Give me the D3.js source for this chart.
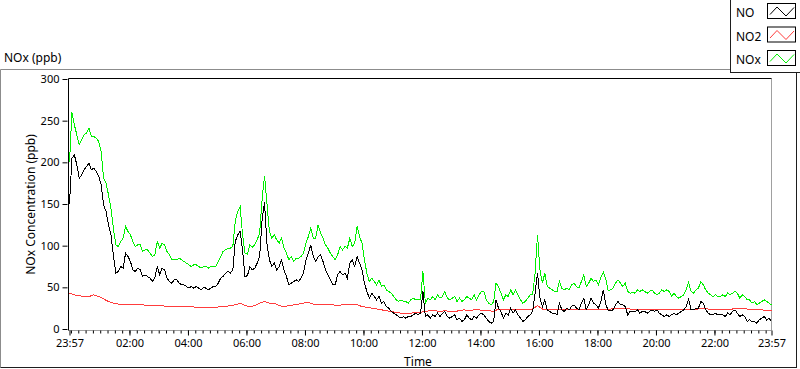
<!DOCTYPE html>
<html><head><meta charset="utf-8">
<script src="https://cdn.jsdelivr.net/npm/d3@7/dist/d3.min.js"></script>
<style>
html,body{margin:0;padding:0;background:#fff;}
svg{display:block;font-family:"Noto Sans",sans-serif;}
</style>
</head><body>
<svg id="chart" width="800" height="369"></svg>
<script>
// ---------------- data ----------------
const seriesNames = ["NO", "NO2", "NOx"];
const startLabel = "23:57";
const noStepMinutes = 5;     // NO and NOx sampled every 5 minutes from 23:57
const no2StepMinutes = 10;   // NO2 sampled every 10 minutes from 23:57

const no = [
  150,205,209,197,181,185,191,195,199,191,193,189,
  183,173,149,141,125,113,89,67,69,75,73,91,
  87,81,71,69,73,71,63,65,63,61,57,61,
  75,65,73,71,61,57,55,59,59,55,53,53,
  51,49,51,49,51,49,47,50,49,47,49,51,
  51,55,61,63,67,69,67,71,105,113,117,95,
  63,64,75,71,73,79,87,131,152,103,83,75,
  79,71,75,83,71,63,53,55,57,59,57,61,
  67,83,91,101,87,81,87,89,81,71,65,59,
  53,53,65,69,65,67,61,79,83,75,87,79,
  71,55,45,37,43,39,35,39,31,33,27,25,
  21,19,17,15,13,15,13,15,15,17,19,17,
  19,45,15,17,13,17,15,19,15,19,21,15,
  13,15,17,11,13,9,11,17,13,11,15,13,
  17,19,17,13,9,7,9,35,25,21,13,19,
  17,25,19,23,17,13,9,11,15,17,21,43,
  67,37,27,35,23,21,19,19,17,31,23,21,
  25,23,27,29,25,23,31,37,23,29,37,31,
  29,25,33,47,30,22,22,23,29,33,29,29,
  27,17,21,21,21,23,19,21,21,19,21,23,
  21,23,19,17,15,17,15,17,19,17,19,21,
  23,27,36,23,23,25,25,33,31,23,19,17,
  17,19,17,17,17,15,19,17,21,23,19,15,
  17,15,9,11,9,9,7,11,13,15,11,13,
  9
];

const nox = [
  200,260,245,233,221,227,233,235,241,231,231,229,
  225,213,181,175,161,145,121,101,99,105,109,123,
  117,113,105,99,101,101,93,95,95,91,87,89,
  105,97,103,101,93,89,83,83,83,85,83,81,
  79,77,75,77,77,75,73,75,75,73,75,75,
  75,81,87,93,95,97,97,99,129,141,147,113,
  91,90,101,98,101,107,115,155,184,151,117,109,
  113,107,103,109,97,91,83,87,81,85,85,87,
  91,103,111,121,109,109,125,115,109,101,97,91,
  87,83,89,99,95,99,97,109,99,103,123,111,
  103,83,67,57,61,57,53,59,51,53,47,45,
  43,39,35,33,35,33,33,31,35,37,35,35,
  35,69,31,37,35,39,35,41,37,39,45,37,
  35,37,39,33,37,33,35,39,37,35,41,35,
  41,45,45,35,31,29,33,55,51,43,35,41,
  39,47,41,47,41,35,31,33,37,41,41,67,
  113,71,55,67,51,49,47,45,45,57,49,47,
  49,47,53,55,51,49,57,65,51,55,61,57,
  59,53,62,68,60,46,47,49,55,59,55,51,
  55,45,43,44,43,47,45,47,45,43,45,47,
  43,41,43,47,45,47,45,39,43,39,37,39,
  41,47,56,45,43,47,49,57,53,47,43,41,
  39,41,39,39,41,39,43,41,43,45,43,37,
  41,39,35,35,31,33,29,31,33,35,33,31,
  29
];

const no2 = [
  43,41,40,39,39,41,39,36,33,31,30,29,
  29,29,29,29,28,28,28,28,27,27,27,27,
  27,27,26,26,26,26,26,27,27,28,29,31,
  28,27,28,31,33,31,31,28,27,28,29,30,
  31,32,30,30,30,29,29,28,29,30,29,29,
  27,26,25,24,23,22,21,20,19,19,19,20,
  20,21,22,22,21,22,21,21,22,23,22,23,
  23,22,22,21,24,23,23,24,24,23,24,24,
  28,24,24,24,24,24,23,24,24,24,23,24,
  24,23,24,24,25,24,25,24,24,23,23,23,
  23,23,23,23,23,23,23,24,24,24,25,24,
  24,23,24,24,24,25,25,24,23,23,23,22,
  22
];

const yTicks = [0, 50, 100, 150, 200, 250, 300];
const xTickLabels = ["23:57","02:00","04:00","06:00","08:00","10:00","12:00",
                     "14:00","16:00","18:00","20:00","22:00","23:57"];

// ---------------- styles ----------------
const colors = {NO: "#000000", NO2: "#ff3c3c", NOx: "#00f000"};
const fontSize = 11;

// ---------------- scales ----------------
const t0 = new Date(2000, 0, 1, 23, 57);
const t1 = new Date(2000, 0, 2, 23, 57);
const plot = {left: 68.5, top: 78.5, right: 771.5, bottom: 330.5};

const x = d3.scaleTime().domain([t0, t1]).range([69.5, 771.5]);
const y = d3.scaleLinear().domain([0, 300]).range([329, 79]);

const parseHM = d3.timeParse("%H:%M");
const majorTicks = xTickLabels.map((s, i) => {
  if (i === 0) return t0;
  if (i === xTickLabels.length - 1) return t1;
  const p = parseHM(s);
  return new Date(2000, 0, 2, p.getHours(), p.getMinutes());
});
const minorTicks = d3.timeMinute.every(15).range(t0, t1);

const svg = d3.select("#chart");

// outer frame (3D look)
svg.append("line").attr("x1", 0.5).attr("y1", 69.5).attr("x2", 796.5).attr("y2", 69.5).attr("stroke", "#8c8c8c");
svg.append("line").attr("x1", 0.5).attr("y1", 69.5).attr("x2", 0.5).attr("y2", 367.5).attr("stroke", "#8c8c8c");
svg.append("line").attr("x1", 0.5).attr("y1", 367.5).attr("x2", 797).attr("y2", 367.5).attr("stroke", "#1e1e1e");
svg.append("line").attr("x1", 796.5).attr("y1", 69.5).attr("x2", 796.5).attr("y2", 368).attr("stroke", "#1e1e1e");

// plot frame
svg.append("line").attr("x1", plot.left).attr("y1", plot.bottom).attr("x2", plot.right).attr("y2", plot.bottom).attr("stroke", "#a0a0a0");
svg.append("line").attr("x1", plot.right).attr("y1", plot.top).attr("x2", plot.right).attr("y2", plot.bottom).attr("stroke", "#a0a0a0");
svg.append("line").attr("x1", plot.left).attr("y1", plot.top).attr("x2", plot.right).attr("y2", plot.top).attr("stroke", "#000");
svg.append("line").attr("x1", plot.left).attr("y1", plot.top).attr("x2", plot.left).attr("y2", plot.bottom).attr("stroke", "#000");

// y axis
const yAxis = svg.append("g").attr("transform", `translate(${plot.left - 1},0)`)
  .call(d3.axisLeft(y).tickValues(yTicks).tickSize(5).tickPadding(3));
yAxis.select(".domain").remove();
yAxis.selectAll("text").attr("font-size", fontSize).attr("font-family", "Noto Sans").attr("fill", "#000");

// x axis minor ticks
const xMinor = svg.append("g").attr("transform", `translate(0,${plot.bottom})`)
  .call(d3.axisBottom(x).tickValues(minorTicks).tickSize(3).tickFormat(""));
xMinor.select(".domain").remove();

// x axis major ticks
const xAxis = svg.append("g").attr("transform", `translate(0,${plot.bottom})`)
  .call(d3.axisBottom(x).tickValues(majorTicks).tickSize(5).tickPadding(4)
    .tickFormat((d, i) => xTickLabels[i]));
xAxis.select(".domain").remove();
xAxis.selectAll("text").attr("font-size", fontSize).attr("font-family", "Noto Sans").attr("fill", "#000");

// lines
function addLine(values, step, color) {
  const gen = d3.line()
    .x((d, i) => x(d3.timeMinute.offset(t0, i * step)))
    .y(d => y(d));
  svg.append("path").datum(values)
    .attr("d", gen)
    .attr("fill", "none")
    .attr("stroke", color)
    .attr("stroke-width", 1)
    .attr("stroke-linejoin", "miter")
    .attr("shape-rendering", "crispEdges");
}
addLine(no2, no2StepMinutes, colors.NO2);
addLine(nox, noStepMinutes, colors.NOx);
addLine(no, noStepMinutes, colors.NO);

// titles
svg.append("text").attr("x", 4).attr("y", 62).attr("font-size", fontSize + 1).attr("fill", "#000").text("NOx (ppb)");
svg.append("text").attr("transform", "translate(35,204.5) rotate(-90)").attr("text-anchor", "middle")
  .attr("font-size", fontSize + 1).attr("fill", "#000").text("NOx Concentration (ppb)");
svg.append("text").attr("x", 418).attr("y", 365.5).attr("text-anchor", "middle")
  .attr("font-size", fontSize + 1).attr("fill", "#000").text("Time");

// legend
const lg = svg.append("g");
lg.append("rect").attr("x", 730.5).attr("y", -1).attr("width", 80).attr("height", 73.5)
  .attr("fill", "#fff").attr("stroke", "#1e1e1e");
seriesNames.forEach((name, i) => {
  const top = 3.5 + i * 23.5;
  lg.append("text").attr("x", 736).attr("y", top + 13.5).attr("font-size", fontSize + 1)
    .attr("fill", "#000").text(name);
  lg.append("rect").attr("x", 767.5).attr("y", top).attr("width", 28).attr("height", 15)
    .attr("fill", "#fff").attr("stroke", "#000");
  lg.append("polyline")
    .attr("points", [[770, top + 11], [777, top + 3.5], [786, top + 12.5], [794, top + 4]].map(p => p.join(",")).join(" "))
    .attr("fill", "none").attr("stroke", colors[name]).attr("stroke-width", 1);
});
</script>
</body></html>
